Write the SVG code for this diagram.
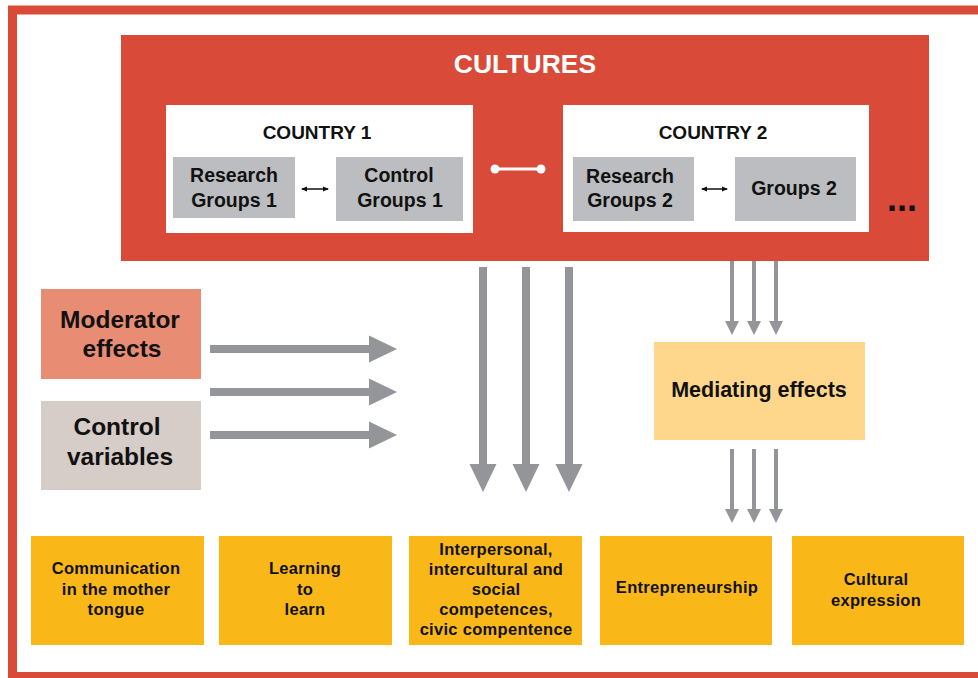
<svg xmlns="http://www.w3.org/2000/svg" width="978" height="678" viewBox="0 0 978 678">
<defs>
<style>
text{font-family:"Liberation Sans",Arial,sans-serif;font-weight:bold;text-anchor:middle;fill:#111}
.big{font-size:24.5px}
.grp{font-size:19.5px}
.ctry{font-size:19px}
.bot{font-size:16.5px;letter-spacing:0.3px}
.gray{fill:#BCBDC0}
.gold{fill:#FAB818}
.thin{stroke:#111;stroke-width:1.5;fill:none}
.arrowH{stroke:#939598;stroke-width:8;fill:none}
.arrowS{stroke:#939598;stroke-width:4;fill:none}
</style>
<marker id="hBig" markerUnits="userSpaceOnUse" viewBox="0 0 28 28" refX="1" refY="14" markerWidth="28" markerHeight="28" orient="auto">
<path d="M0,0.5 L28,14 L0,27.5 Z" fill="#939598"/>
</marker>
<marker id="hSmall" markerUnits="userSpaceOnUse" viewBox="0 0 14 14" refX="1" refY="7" markerWidth="14" markerHeight="14" orient="auto">
<path d="M0,0 L14,7 L0,14 Z" fill="#939598"/>
</marker>
<marker id="hTiny" markerUnits="userSpaceOnUse" viewBox="0 0 6 6" refX="5" refY="3" markerWidth="6" markerHeight="6" orient="auto-start-reverse">
<path d="M0,0.5 L6,3 L0,5.5 Z" fill="#111"/>
</marker>
<marker id="dot" markerUnits="userSpaceOnUse" viewBox="0 0 10 10" refX="5" refY="5" markerWidth="10" markerHeight="10">
<circle cx="5" cy="5" r="4.5" fill="#fff"/>
</marker>
</defs>

<rect x="0" y="0" width="978" height="678" fill="#fff"/>
<g id="frame">
<rect x="12.5" y="10" width="1000" height="666.5" fill="none" stroke="#DA4A38" stroke-width="9"/>
</g>

<g id="cultures">
<rect x="121" y="35" width="808" height="226" fill="#DA4A38"/>
<text x="525" y="73" style="font-size:26.5px;fill:#fff">CULTURES</text>
<text x="902" y="211" style="font-size:36px;fill:#111">...</text>
</g>

<g id="country1">
<rect x="166" y="105" width="307" height="128" fill="#fff"/>
<text class="ctry" x="317" y="139">COUNTRY 1</text>
</g>
<g id="research1">
<rect class="gray" x="173" y="157" width="122" height="61"/>
<text class="grp" x="234" y="182">Research</text>
<text class="grp" x="234" y="207">Groups 1</text>
</g>
<g id="control1">
<rect class="gray" x="336" y="157" width="127" height="64"/>
<text class="grp" x="399" y="182">Control</text>
<text class="grp" x="400" y="207">Groups 1</text>
</g>

<g id="country2">
<rect x="563" y="105" width="306" height="127" fill="#fff"/>
<text class="ctry" x="713" y="139">COUNTRY 2</text>
</g>
<g id="research2">
<rect class="gray" x="573" y="157" width="121" height="64"/>
<text class="grp" x="630" y="183">Research</text>
<text class="grp" x="630" y="207">Groups 2</text>
</g>
<g id="groups2">
<rect class="gray" x="735" y="157" width="121" height="64"/>
<text class="grp" x="794" y="195">Groups 2</text>
</g>

<g id="moderator">
<rect x="41" y="289" width="160" height="90" fill="#E88D74"/>
<text class="big" x="120" y="328">Moderator</text>
<text class="big" x="122" y="357">effects</text>
</g>
<g id="controlvars">
<rect x="41" y="401" width="160" height="89" fill="#D6CCC8"/>
<text class="big" x="117" y="435">Control</text>
<text class="big" x="120" y="465">variables</text>
</g>

<g id="mediating">
<rect x="654" y="342" width="211" height="98" fill="#FED68C"/>
<text x="759" y="397" style="font-size:21.5px">Mediating effects</text>
</g>

<g id="comm">
<rect class="gold" x="31" y="536" width="173" height="109"/>
<text class="bot" x="116" y="574">Communication</text>
<text class="bot" x="116" y="595">in the mother</text>
<text class="bot" x="116" y="615">tongue</text>
</g>
<g id="learning">
<rect class="gold" x="219" y="536" width="173" height="109"/>
<text class="bot" x="305" y="574">Learning</text>
<text class="bot" x="305" y="595">to</text>
<text class="bot" x="305" y="615">learn</text>
</g>
<g id="interpersonal">
<rect class="gold" x="409" y="536" width="173" height="109"/>
<text class="bot" x="496" y="555">Interpersonal,</text>
<text class="bot" x="496" y="575">intercultural and</text>
<text class="bot" x="496" y="595">social</text>
<text class="bot" x="496" y="615">competences,</text>
<text class="bot" x="496" y="635">civic compentence</text>
</g>
<g id="entrepreneurship">
<rect class="gold" x="600" y="536" width="172" height="109"/>
<text class="bot" x="687" y="593">Entrepreneurship</text>
</g>
<g id="cultural">
<rect class="gold" x="792" y="536" width="172" height="109"/>
<text class="bot" x="876" y="585">Cultural</text>
<text class="bot" x="876" y="606">expression</text>
</g>

<g id="connectors">
<line class="thin" x1="302" y1="189" x2="328" y2="189" marker-start="url(#hTiny)" marker-end="url(#hTiny)"/>
<line class="thin" x1="702" y1="189" x2="727" y2="189" marker-start="url(#hTiny)" marker-end="url(#hTiny)"/>
<line x1="495" y1="169" x2="541" y2="169" stroke="#fff" stroke-width="3" marker-start="url(#dot)" marker-end="url(#dot)"/>

<line class="arrowH" x1="210" y1="349" x2="370" y2="349" marker-end="url(#hBig)"/>
<line class="arrowH" x1="210" y1="392" x2="370" y2="392" marker-end="url(#hBig)"/>
<line class="arrowH" x1="210" y1="435" x2="370" y2="435" marker-end="url(#hBig)"/>

<line class="arrowH" x1="483" y1="267" x2="483" y2="465" marker-end="url(#hBig)"/>
<line class="arrowH" x1="526" y1="267" x2="526" y2="465" marker-end="url(#hBig)"/>
<line class="arrowH" x1="569" y1="267" x2="569" y2="465" marker-end="url(#hBig)"/>

<line class="arrowS" x1="732" y1="261" x2="732" y2="322" marker-end="url(#hSmall)"/>
<line class="arrowS" x1="754" y1="261" x2="754" y2="322" marker-end="url(#hSmall)"/>
<line class="arrowS" x1="776" y1="261" x2="776" y2="322" marker-end="url(#hSmall)"/>

<line class="arrowS" x1="732" y1="449" x2="732" y2="510" marker-end="url(#hSmall)"/>
<line class="arrowS" x1="754" y1="449" x2="754" y2="510" marker-end="url(#hSmall)"/>
<line class="arrowS" x1="776" y1="449" x2="776" y2="510" marker-end="url(#hSmall)"/>
</g>
</svg>
